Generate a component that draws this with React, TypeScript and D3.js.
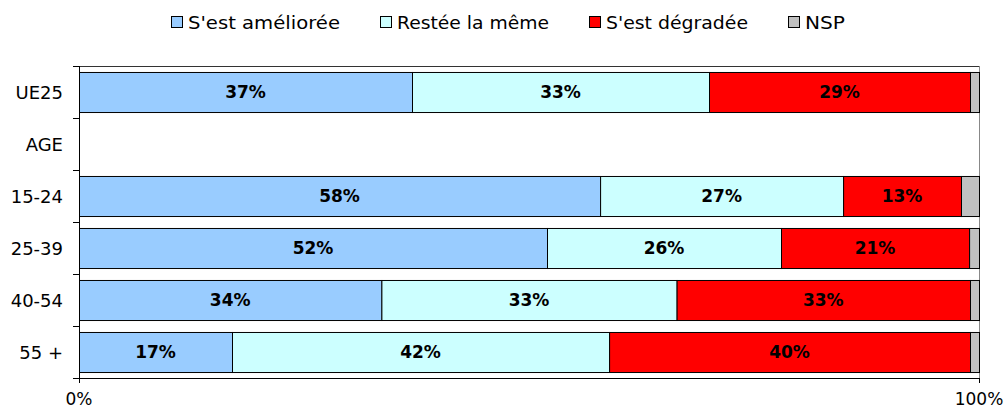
import React from "react";
import * as d3 from "d3";

const categories = ["UE25", "AGE", "15-24", "25-39", "40-54", "55 +"];
const seriesNames = ["S'est améliorée", "Restée la même", "S'est dégradée", "NSP"];
const seriesColors = ["#99CCFF", "#CCFFFF", "#FF0000", "#C0C0C0"];
const ameliore = [37, null, 57.9, 52, 33.6, 17];
const meme = [33, null, 27, 26, 32.8, 41.9];
const degrade = [29, null, 13.1, 20.9, 32.6, 40.1];
const nsp = [1, null, 2, 1.1, 1, 1];
const xTicks = [0, 100];

const W = 1008;
const H = 410;
const left = 79;
const right = 979;
const top = 66;
const bottom = 378;

const legendX = [171, 380, 589, 788];
const legendW = [152, 152, 142, 40];

export default function App() {
  const x = d3.scaleLinear().domain([0, 100]).range([left, right]);
  const y = d3
    .scaleBand<string>()
    .domain(categories)
    .range([top, bottom])
    .paddingInner(0.23)
    .paddingOuter(0.115);
  const step = y.step();
  const series = [ameliore, meme, degrade, nsp];
  const font = "'DejaVu Sans', Verdana, sans-serif";

  return (
    <svg
      width={W}
      height={H}
      style={{ position: "absolute", left: 0, top: 0, background: "#fff" }}
      fontFamily={font}
    >
      {/* legend */}
      {seriesNames.map((n, i) => (
        <g key={n}>
          <rect x={legendX[i] + 0.5} y={16.5} width={11} height={11} fill={seriesColors[i]} stroke="#000" strokeWidth={1} />
          <text
            x={legendX[i] + 17}
            y={29}
            fontSize={17}
            textLength={legendW[i]}
            lengthAdjust="spacingAndGlyphs"
            fill="#000"
          >
            {n}
          </text>
        </g>
      ))}

      {/* plot border top & right */}
      <line x1={left} x2={right} y1={top + 0.5} y2={top + 0.5} stroke="#333" />
      <line x1={right + 0.5} x2={right + 0.5} y1={top} y2={bottom} stroke="#888" />

      {/* bars */}
      {categories.map((c, ci) => {
        let cum = 0;
        return (
          <g key={c}>
            {series.map((s, si) => {
              const v = s[ci];
              if (v == null) return null;
              const x0 = x(cum);
              cum += v;
              const x1 = x(cum);
              const yy = y(c)!;
              return (
                <g key={si}>
                  <rect
                    x={x0 + 0.5}
                    y={yy + 0.5}
                    width={Math.max(0, x1 - x0)}
                    height={y.bandwidth()}
                    fill={seriesColors[si]}
                    stroke="#000"
                    strokeWidth={1}
                  />
                  {si < 3 && (
                    <text
                      x={(x0 + x1) / 2}
                      y={yy + y.bandwidth() / 2 + 6}
                      textAnchor="middle"
                      fontSize={17}
                      fontWeight="bold"
                      fill="#000"
                    >
                      {Math.round(v)}%
                    </text>
                  )}
                </g>
              );
            })}
          </g>
        );
      })}

      {/* y axis */}
      <line x1={left + 0.5} x2={left + 0.5} y1={top} y2={bottom + 5} stroke="#000" />
      {d3.range(categories.length + 1).map((i) => (
        <line key={i} x1={left - 6} x2={left} y1={top + i * step + 0.5} y2={top + i * step + 0.5} stroke="#000" />
      ))}
      {categories.map((c) => (
        <text key={c} x={63} y={y(c)! + y.bandwidth() / 2 + 6.5} textAnchor="end" fontSize={18} fill="#000">
          {c}
        </text>
      ))}

      {/* x axis */}
      <line x1={left} x2={right + 1} y1={bottom + 0.5} y2={bottom + 0.5} stroke="#000" />
      {xTicks.map((t) => (
        <g key={t}>
          <line x1={x(t) + 0.5} x2={x(t) + 0.5} y1={bottom} y2={bottom + 5} stroke="#000" />
          <text x={x(t)} y={405} textAnchor="middle" fontSize={17} fill="#000">
            {t}%
          </text>
        </g>
      ))}
    </svg>
  );
}
